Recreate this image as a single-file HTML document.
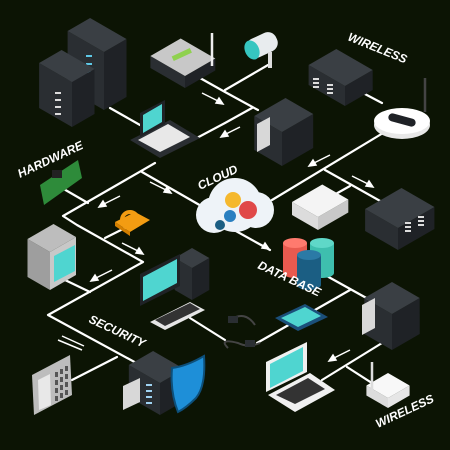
<!DOCTYPE html>
<html><head><meta charset="utf-8"><style>
html,body{margin:0;padding:0;background:#0c1404;}
svg{display:block}
text{font-family:"Liberation Sans",sans-serif;font-weight:bold;fill:#fff;font-size:12px;font-style:italic}
</style></head><body>
<svg id="s" width="450" height="450" viewBox="0 0 450 450">
<rect width="450" height="450" fill="#0c1404"/>
<g stroke="#fff" stroke-width="2.2" fill="none" stroke-linecap="round" stroke-linejoin="round">
<polyline points="110,108 140,125"/>
<polyline points="268,65 225,90"/>
<polyline points="200,78 225,92 258,110"/>
<polyline points="193,140 225,123 252,108"/>
<polyline points="383,133 272,200"/>
<polyline points="325,170 382,202"/>
<polyline points="350,186 325,200"/>
<polyline points="363,93 382,103"/>
<polyline points="155,163 63,216 77,225 143,262 48,315 140,365"/>
<polyline points="142,172 203,207"/>
<polyline points="62,188 88,203"/>
<polyline points="65,280 90,292"/>
<polyline points="105,238 125,228"/>
<polyline points="72,380 117,357"/>
<polyline points="190,318 225,340"/>
<polyline points="225,225 270,250"/>
<polyline points="325,275 370,300"/>
<polyline points="257,343 350,290"/>
<polyline points="382,343 322,380"/>
<polyline points="347,367 375,385"/>
</g>
<g stroke="#fff" stroke-width="1.5" fill="#fff">
<line x1="202" y1="93" x2="220" y2="102"/><polygon points="223,104 216,103 219,98"/>
<line x1="240" y1="127" x2="224" y2="135"/><polygon points="221,137 225,131 228,136"/>
<line x1="330" y1="155" x2="312" y2="164"/><polygon points="309,166 313,160 316,165"/>
<line x1="352" y1="176" x2="370" y2="185"/><polygon points="373,187 366,186 369,181"/>
<line x1="150" y1="182" x2="168" y2="191"/><polygon points="171,193 164,192 167,187"/>
<line x1="120" y1="196" x2="102" y2="205"/><polygon points="99,207 103,201 106,206"/>
<line x1="122" y1="243" x2="140" y2="252"/><polygon points="143,254 136,253 139,248"/>
<line x1="112" y1="270" x2="94" y2="279"/><polygon points="91,281 95,275 98,280"/>
<line x1="248" y1="238" x2="266" y2="247"/><polygon points="269,249 262,248 265,243"/>
<line x1="350" y1="350" x2="332" y2="359"/><polygon points="329,361 333,355 336,360"/>
<line x1="58" y1="340" x2="82" y2="350"/>
<line x1="62" y1="336" x2="84" y2="346"/>
</g>
<g id="shapes"></g>
<text transform="translate(347,40) rotate(22)" font-size="11">WIRELESS</text>
<text transform="translate(20,178) rotate(-25)" font-size="11">HARDWARE</text>
<text transform="translate(200,190) rotate(-25)" font-size="11">CLOUD</text>
<text transform="translate(257,268) rotate(25)" font-size="11">DATA BASE</text>
<text transform="translate(88,322) rotate(25)" font-size="11">SECURITY</text>
<text transform="translate(378,428) rotate(-25)" font-size="11">WIRELESS</text>
</svg>
<script>
var g=document.getElementById('shapes'),NS='http://www.w3.org/2000/svg';
function P(pts,f,st){var p=document.createElementNS(NS,'polygon');p.setAttribute('points',pts.map(function(q){return q[0].toFixed(1)+','+q[1].toFixed(1)}).join(' '));p.setAttribute('fill',f);if(st)p.setAttribute('stroke',st);g.appendChild(p);}
function E(tag,a){var e=document.createElementNS(NS,tag);for(var k in a)e.setAttribute(k,a[k]);g.appendChild(e);return e;}
function box(cx,cy,a,b,h,t,l,r){var c=.866;var F=[cx,cy],L=[cx-a*c,cy-a*.5],R=[cx+b*c,cy-b*.5],B=[cx-a*c+b*c,cy-a*.5-b*.5];
function u(p){return [p[0],p[1]-h]}
P([F,L,u(L),u(F)],l);P([F,R,u(R),u(F)],r);P([u(F),u(L),u(B),u(R)],t);}
function leds(x,y,n,col,dx,dy){for(var i=0;i<n;i++)E('rect',{x:x+i*dx,y:y+i*dy,width:6,height:2,fill:col});}
// servers top-left
box(104,110,42,26,58,'#3a3f44','#2a2e32','#1f2226');
leds(86,55,5,'#5ec8e6',0,8);
box(72,127,38,26,45,'#3a3f44','#2a2e32','#1f2226');
leds(55,92,4,'#ddd',0,7);
// router top
box(185,88,40,35,12,'#c8c8c8','#2a2e32','#1f2226');
E('rect',{x:172,y:52,width:20,height:5,fill:'#8fd14f',transform:'rotate(-25 182 55)'});
E('line',{x1:212,y1:33,x2:212,y2:66,stroke:'#eee','stroke-width':2.5});
// camera
E('rect',{x:246,y:35,width:32,height:20,rx:9,fill:'#e8ecee',transform:'rotate(-25 262 45)'});
E('ellipse',{cx:252,cy:50,rx:7,ry:10,fill:'#36c6c0',transform:'rotate(-25 252 50)'});
E('line',{x1:270,y1:52,x2:270,y2:68,stroke:'#ddd','stroke-width':4});
// server top right
box(345,106,42,32,20,'#3a3f44','#2a2e32','#1f2226');
leds(313,78,3,'#ddd',0,4);leds(327,84,3,'#ddd',0,4);
// laptop top
P([[130,140],[170,120],[200,138],[160,158]],'#2a2e32');
P([[138,140],[168,124],[190,137],[160,152]],'#e8e8e8');
P([[140,137],[140,113],[165,100],[165,124]],'#1f2226');
P([[143,133],[143,115],[162,104],[162,122]],'#4fd5d0');
// server mid top
box(282,166,32,36,34,'#3a3f44','#2a2e32','#1f2226');
P([[257,152],[257,124],[270,117],[270,145]],'#d8d8d8');
// router white
E('ellipse',{cx:402,cy:125,rx:28,ry:14,fill:'#e8e8e8'});
E('ellipse',{cx:402,cy:121,rx:28,ry:13,fill:'#fff'});
E('rect',{x:388,y:116,width:28,height:8,rx:4,fill:'#1f2226',transform:'rotate(15 402 120)'});
E('line',{x1:425,y1:78,x2:425,y2:112,stroke:'#444','stroke-width':2.5});
// board
P([[40,185],[78,160],[82,178],[44,205]],'#2e8b3a');
E('rect',{x:52,y:170,width:10,height:8,fill:'#222'});
// cloud
E('circle',{cx:235,cy:205,r:27,fill:'#eef3f8'});
E('circle',{cx:214,cy:215,r:18,fill:'#eef3f8'});
E('circle',{cx:256,cy:210,r:18,fill:'#eef3f8'});
E('circle',{cx:233,cy:200,r:8,fill:'#f5b82e'});
E('circle',{cx:248,cy:210,r:9,fill:'#e04848'});
E('circle',{cx:230,cy:216,r:6,fill:'#2a7fc0'});
E('circle',{cx:220,cy:225,r:5,fill:'#1b5e83'});
// lock
E('path',{d:'M122 220 a8 8 0 0 1 16 0',stroke:'#f39c12','stroke-width':4,fill:'none'});
P([[115,222],[135,212],[150,220],[130,232]],'#f39c12');
P([[115,222],[130,232],[130,236],[115,226]],'#d47f00');
// white box
box(318,230,30,35,13,'#f4f4f4','#dcdcdc','#c8c8c8');
// server right
box(398,250,38,42,22,'#3a3f44','#2a2e32','#1f2226');
leds(405,222,3,'#ddd',0,4);leds(418,216,3,'#ddd',0,4);
// monitor
box(50,290,26,30,38,'#bdbdbd','#9e9e9e','#c8c8c8');
P([[54,282],[54,256],[75,245],[75,271]],'#4fd5d0');
// desktop PC
box(192,300,20,20,32,'#3a3f44','#2a2e32','#1f2226');
P([[140,306],[140,274],[180,254],[180,286]],'#1f2226');
P([[143,301],[143,277],[177,259],[177,283]],'#4fd5d0');
P([[150,322],[190,302],[205,310],[165,330]],'#e6e6e6');
P([[155,320],[190,303],[200,309],[165,326]],'#333');
// database
function cyl(x,y,col,top){E('rect',{x:x-12,y:y,width:24,height:30,fill:col});E('ellipse',{cx:x,cy:y+30,rx:12,ry:5,fill:col});E('ellipse',{cx:x,cy:y,rx:12,ry:5,fill:top});}
cyl(295,243,'#e85a4f','#ff7a6e');cyl(322,243,'#3ebfae','#5fd8c8');cyl(309,255,'#1b5e83','#2b7aa6');
// cables
E('path',{d:'M230 320 q15 -10 25 5 M228 348 q-10 -10 10 -5 q10 5 22 0',stroke:'#444','stroke-width':2,fill:'none'});
E('rect',{x:228,y:316,width:10,height:7,fill:'#2a2e32'});E('rect',{x:245,y:340,width:10,height:7,fill:'#2a2e32'});
// phone
P([[275,318],[305,304],[328,317],[298,331]],'#1b4f7a');
P([[281,318],[305,307],[321,316],[298,327]],'#4fd5d0');
// server right bottom
box(392,350,32,32,36,'#3a3f44','#2a2e32','#1f2226');
P([[362,335],[362,305],[375,298],[375,328]],'#d8d8d8');
// laptop white
P([[268,395],[310,373],[335,390],[295,412]],'#f0f0f0');
P([[276,395],[308,378],[325,389],[295,404]],'#333');
P([[266,392],[266,362],[307,342],[307,372]],'#f0f0f0');
P([[270,388],[270,364],[303,347],[303,371]],'#4fd5d0');
// router white bottom
box(388,408,25,25,10,'#f8f8f8','#dcdcdc','#e6e6e6');
E('line',{x1:372,y1:362,x2:372,y2:392,stroke:'#ddd','stroke-width':2.5});
// keypad
P([[32,375],[70,355],[72,395],[34,415]],'#bdbdbd');
P([[38,380],[50,374],[51,405],[39,410]],'#e8e8e8');
for(var i=0;i<3;i++)for(var j=0;j<4;j++)E('rect',{x:55+i*5,y:372+j*8-i*3,width:3,height:5,fill:'#555'});
// security server
box(160,415,36,28,32,'#3a3f44','#2a2e32','#1f2226');
P([[123,410],[123,386],[140,378],[140,402]],'#d8d8d8');
leds(146,384,4,'#9fd3f2',0,6);
// shield
E('path',{d:'M172 368 q15 -2 32 -12 q2 30 -8 42 q-10 10 -18 14 q-8 -20 -6 -44z',fill:'#1e8fd8',stroke:'#0d4f7a','stroke-width':2});
</script>
</body></html>
